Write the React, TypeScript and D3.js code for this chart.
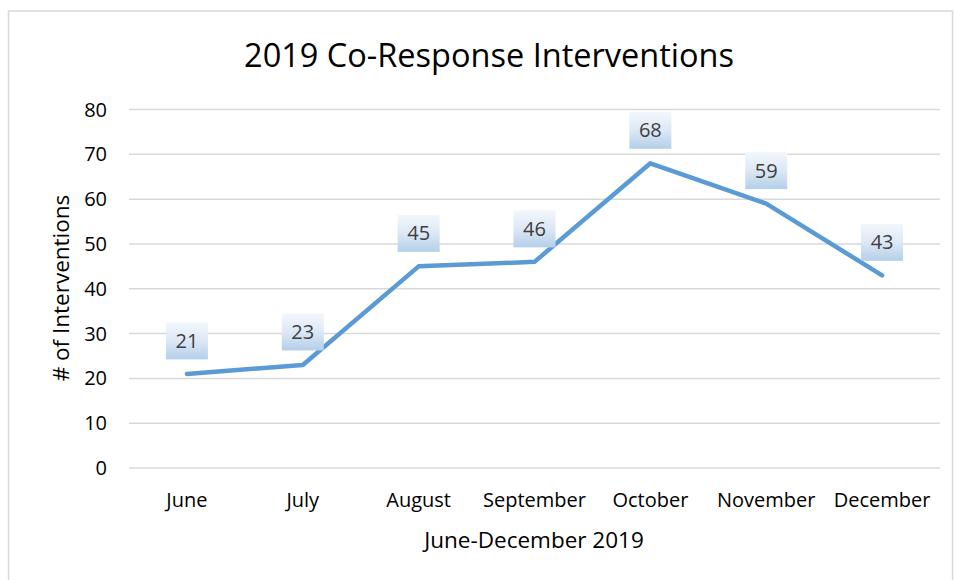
import React from "react";
import * as d3 from "d3";

const months = ["June", "July", "August", "September", "October", "November", "December"];
const interventions = [21, 23, 45, 46, 68, 59, 43];
const yTicks = [0, 10, 20, 30, 40, 50, 60, 70, 80];

const W = 954;
const H = 580;
const FONT = "'Open Sans', 'Noto Sans', sans-serif";

export default function App() {
  const x = d3.scaleBand<string>().domain(months).range([129, 940]);
  const y = d3.scaleLinear().domain([0, 80]).range([468, 109.5]);
  const cx = (m: string) => (x(m) as number) + x.bandwidth() / 2;
  const line = d3
    .line<number>()
    .x((_, i) => cx(months[i]))
    .y((d) => y(d));

  return (
    <svg
      width={W}
      height={H}
      style={{ position: "absolute", left: 0, top: 0, background: "#fff" }}
      fontFamily={FONT}
    >
      <defs>
        <linearGradient id="lblGrad" x1="0" y1="0" x2="0" y2="1">
          <stop offset="0%" stopColor="#f3f7fc" />
          <stop offset="50%" stopColor="#dce8f5" />
          <stop offset="100%" stopColor="#b4cfea" />
        </linearGradient>
      </defs>
      <rect x={8.5} y={11} width={944} height={600} fill="#fff" stroke="#d9d9d9" strokeWidth={1.5} />
      <text x={489} y={67} textAnchor="middle" fontSize={32.5} fill="#000">
        2019 Co-Response Interventions
      </text>
      {yTicks.map((t) => (
        <g key={t}>
          <line x1={129} x2={940} y1={y(t)} y2={y(t)} stroke="#d9d9d9" strokeWidth={1.5} />
          <text x={107} y={y(t)} dy="0.35em" textAnchor="end" fontSize={20} fill="#000">
            {t}
          </text>
        </g>
      ))}
      {months.map((m) => (
        <text key={m} x={cx(m)} y={507} textAnchor="middle" fontSize={20} fill="#000">
          {m}
        </text>
      ))}
      <text x={534} y={548} textAnchor="middle" fontSize={22.5} fill="#000">
        June-December 2019
      </text>
      <text
        transform={`translate(69,288) rotate(-90)`}
        textAnchor="middle"
        fontSize={22.5}
        fill="#000"
      >
        # of Interventions
      </text>
      <path
        d={line(interventions) || ""}
        fill="none"
        stroke="#5b9bd5"
        strokeWidth={4.5}
        strokeLinejoin="round"
        strokeLinecap="round"
      />
      {interventions.map((v, i) => {
        const px = cx(months[i]);
        const py = y(v) - 33;
        return (
          <g key={i}>
            <rect x={px - 21} y={py - 18.5} width={42} height={37} fill="url(#lblGrad)" />
            <text x={px} y={py} dy="0.35em" textAnchor="middle" fontSize={20} fill="#404040">
              {v}
            </text>
          </g>
        );
      })}
    </svg>
  );
}
